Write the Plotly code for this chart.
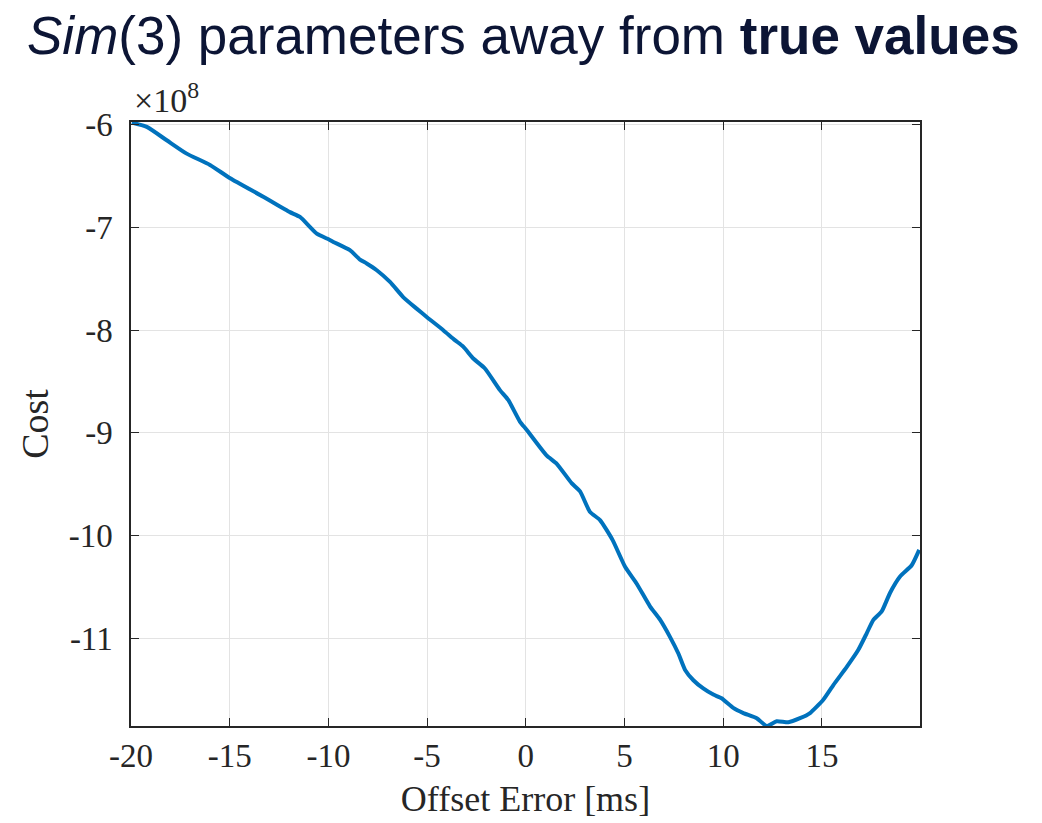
import plotly.graph_objects as go

# Offset error [ms]
offset_ms = [-19.96, -19.2, -18.19, -17.18, -16.0, -14.98, -13.30, -11.95, -11.44, -10.59,
             -9.97, -9.75, -8.91, -8.40, -8.06, -7.55, -6.88, -6.20, -5.53, -4.99,
             -4.18, -3.59, -3.17, -2.66, -2.07, -1.31, -0.89, -0.30, 0.04, 1.05,
             1.56, 2.32, 2.75, 3.25, 3.76, 4.40, 5.03, 5.62, 6.29, 6.80,
             7.31, 7.73, 8.07, 8.49, 8.99, 9.50, 9.92, 10.51, 11.02, 11.70,
             12.20, 12.71, 13.30, 13.89, 14.40, 15.07, 15.58, 16.26, 16.84, 17.27,
             17.60, 18.03, 18.45, 18.96, 19.55, 19.93]
# Cost in units of 1e8
cost_e8 = [-5.978, -6.02, -6.15, -6.28, -6.39, -6.52, -6.70, -6.85, -6.897, -7.06,
           -7.117, -7.14, -7.221, -7.312, -7.35, -7.416, -7.53, -7.68, -7.79, -7.876,
           -8.0, -8.097, -8.16, -8.276, -8.373, -8.584, -8.68, -8.89, -8.97, -9.22,
           -9.30, -9.49, -9.57, -9.77, -9.85, -10.045, -10.305, -10.47, -10.69, -10.82,
           -10.99, -11.15, -11.31, -11.41, -11.49, -11.55, -11.586, -11.68, -11.73, -11.78,
           -11.856, -11.81, -11.82, -11.78, -11.73, -11.60, -11.457, -11.28, -11.116, -10.953,
           -10.824, -10.74, -10.56, -10.40, -10.29, -10.14]

x_ticks = [-20, -15, -10, -5, 0, 5, 10, 15]
y_ticks = [-6, -7, -8, -9, -10, -11]
y_tick_labels = ["-6", "-7", "-8", "-9", "-10", "-11"]
x_tick_labels = ["-20", "-15", "-10", "-5", "0", "5", "10", "15"]

serif = "Liberation Serif"
axis_color = "#262626"

fig = go.Figure()
fig.add_trace(go.Scatter(x=offset_ms, y=cost_e8, mode="lines",
                         line=dict(color="#0072BD", width=4, shape="spline", smoothing=0.5),
                         hoverinfo="skip"))

fig.update_layout(
    width=1042, height=823,
    margin=dict(l=131, r=122, t=122, b=97),
    paper_bgcolor="white", plot_bgcolor="white",
    showlegend=False,
    title=dict(
        text="<i>Sim</i>(3) parameters away from <b>true values</b>",
        font=dict(family="Liberation Sans, Arial, sans-serif", size=53, color="#0c1535"),
        x=27 / 1042, xanchor="left", xref="container",
        y=1 - 35 / 823, yanchor="middle", yref="container",
    ),
    xaxis=dict(
        range=[-20, 19.97], tickvals=x_ticks, ticktext=x_tick_labels,
        ticks="inside", ticklen=8, tickwidth=1.2, tickcolor=axis_color,
        showline=True, linecolor=axis_color, linewidth=1.5, mirror="ticks",
        showgrid=True, gridcolor="#e3e3e3", gridwidth=1, zeroline=False,
        tickfont=dict(family=serif, size=33, color=axis_color),
        ticklabelstandoff=0,
        title=dict(text="Offset Error [ms]", font=dict(family=serif, size=36, color=axis_color), standoff=12),
    ),
    yaxis=dict(
        range=[-11.856, -5.972], tickvals=y_ticks, ticktext=y_tick_labels,
        ticks="inside", ticklen=8, tickwidth=1.2, tickcolor=axis_color,
        showline=True, linecolor=axis_color, linewidth=1.5, mirror="ticks",
        showgrid=True, gridcolor="#e3e3e3", gridwidth=1, zeroline=False,
        tickfont=dict(family=serif, size=33, color=axis_color),
        ticklabelstandoff=10,
        title=dict(text="Cost", font=dict(family=serif, size=38, color=axis_color), standoff=8),
    ),
    annotations=[dict(
        text="×10<sup>8</sup>", xref="paper", yref="paper", x=0, y=1,
        xanchor="left", yanchor="bottom", xshift=1, yshift=1, showarrow=False,
        font=dict(family=serif, size=34, color=axis_color),
    )],
)

fig.write_html("out.html")
